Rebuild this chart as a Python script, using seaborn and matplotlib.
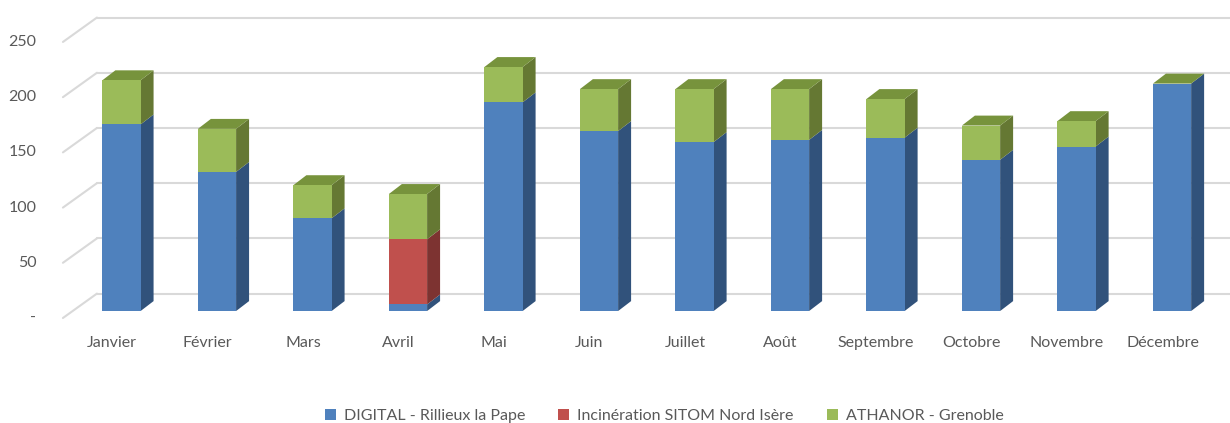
import matplotlib
matplotlib.use('Agg')
import matplotlib.pyplot as plt
import seaborn as sns
import pandas as pd
import numpy as np
from matplotlib.patches import Polygon, Patch

# ── Data ─────────────────────────────────────────────────────────────────────
months  = ['Janvier', 'Février', 'Mars', 'Avril', 'Mai', 'Juin', 'Juillet',
           'Août', 'Septembre', 'Octobre', 'Novembre', 'Décembre']
digital = [169, 126, 84, 6, 189, 163, 153, 155, 157, 137, 149, 206]
sitom   = [0, 0, 0, 59, 0, 0, 0, 0, 0, 0, 0, 0]
athanor = [40, 39, 30, 41, 32, 38, 48, 46, 35, 31, 23, 0]
series_names = ['DIGITAL - Rillieux la Pape', 'Incinération SITOM Nord Isère',
                'ATHANOR - Grenoble']
yticks       = [0, 50, 100, 150, 200, 250]
ytick_labels = ['-', '50', '100', '150', '200', '250']

front = ['#4F81BD', '#C0504D', '#9BBB59']
side  = ['#31527B', '#7D3331', '#657833']
top_c = '#77933C'
grid_c = '#D9D9D9'
text_c = '#595959'

sns.set_theme(style='white')
plt.rcParams['font.family'] = ['Lato', 'DejaVu Sans']

df = pd.DataFrame({'month': months, 'digital': digital,
                   'sitom': sitom, 'athanor': athanor})
df['lvl1'] = df['digital']
df['lvl2'] = df['digital'] + df['sitom']
df['lvl3'] = df['lvl2'] + df['athanor']

fig = plt.figure(figsize=(12.3, 4.23), dpi=100)
ax = fig.add_axes([0, 0, 1, 1])
ax.set_xlim(-1.272, 11.607)
ax.set_ylim(-101.4, 281.7)
ax.set_axis_off()

# ── 3D frame: back wall gridlines + left diagonals ──────────────────────────
back_dy = 15.8
x_front, x_back = -0.613, -0.257
for v in yticks:
    ax.plot([x_back, 11.7], [v + back_dy, v + back_dy], color=grid_c, lw=1.5, zorder=0)
    ax.plot([x_front, x_back], [v - 6.3, v + back_dy], color=grid_c, lw=1.5, zorder=0)
for v, lab in zip(yticks, ytick_labels):
    ax.text(-0.89, v - 6.3, lab, ha='right', va='center', fontsize=11.5, color=text_c)

# ── Front faces (stacked via layered barplots) ──────────────────────────────
w = 0.4
for col, c in zip(['lvl3', 'lvl2', 'lvl1'], [front[2], front[1], front[0]]):
    sns.barplot(data=df, x='month', y=col, order=months, color=c, saturation=1,
                width=w, ax=ax, zorder=3, linewidth=0)
ax.set_xlim(-1.272, 11.607)
ax.set_ylim(-101.4, 281.7)

# ── Side and top faces ───────────────────────────────────────────────────────
dx, dy = 0.136, 9.0
for i in range(len(months)):
    xr = i + w / 2
    xl = i - w / 2
    bounds = [(0, df['lvl1'][i]), (df['lvl1'][i], df['lvl2'][i]),
              (df['lvl2'][i], df['lvl3'][i])]
    for k, (b, t) in enumerate(bounds):
        if t - b <= 0:
            continue
        ax.add_patch(Polygon([(xr, b), (xr + dx, b + dy), (xr + dx, t + dy), (xr, t)],
                             closed=True, facecolor=side[k], edgecolor='none', zorder=2))
    t = df['lvl3'][i]
    ax.add_patch(Polygon([(xl, t), (xl + dx, t + dy), (xr + dx, t + dy), (xr, t)],
                         closed=True, facecolor=top_c, edgecolor='none', zorder=2))
    ax.text(i - 0.1, -28.5, months[i], ha='center', va='center', fontsize=11.5, color=text_c)

# ── Legend ───────────────────────────────────────────────────────────────────
handles = [Patch(facecolor=c, edgecolor='none') for c in front]
fig.legend(handles, series_names, loc='center', bbox_to_anchor=(0.540, 1 - 416 / 423),
           ncol=3, frameon=False, fontsize=11.5, labelcolor=text_c, handlelength=0.7,
           handleheight=0.7, handletextpad=0.5, columnspacing=2.05)

fig.savefig('out.png', dpi=100)
